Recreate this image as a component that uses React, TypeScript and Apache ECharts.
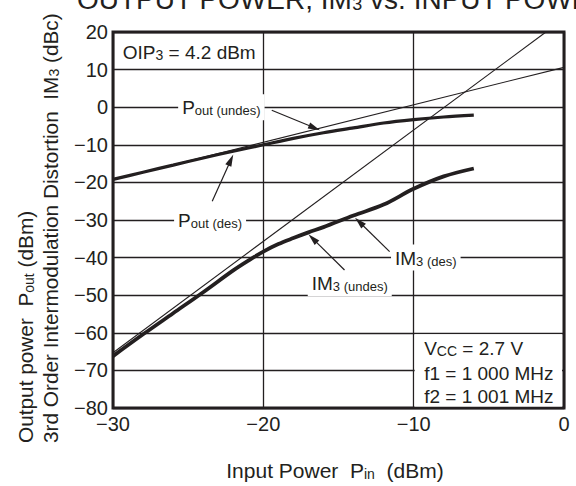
import React, { useEffect, useRef } from 'react';
import * as echarts from 'echarts';

const FONT = "'Liberation Sans', Arial, Helvetica, sans-serif";
const INK = '#231f20';

// Axis ranges / ticks
const X_MIN = -30, X_MAX = 0, X_STEP = 10;
const Y_MIN = -80, Y_MAX = 20, Y_STEP = 10;

// Measured curves (Pin in dBm)
const pinPout = [-30, -28, -26, -24, -22, -20, -18, -16, -14, -12, -10, -8, -6];
const poutDes = [-19.2, -17.3, -15.4, -13.5, -11.7, -10.0, -8.3, -6.8, -5.5, -4.2, -3.3, -2.6, -2.1];
const pinIm3 = [-30, -28, -26, -24, -22, -21, -20, -19, -18, -17, -16, -14, -12, -10, -8, -6];
const im3Des = [-66.2, -60.4, -54.8, -49.2, -43.4, -40.8, -38.4, -36.4, -34.8, -33.3, -31.9, -28.8, -25.9, -21.7, -18.4, -16.3];

// Extrapolated (thin) lines
const poutExtPin = [-30, 0];
const poutExtVal = [-19.3, 10.6];
const im3ExtPin = [-30, -1.2];
const im3ExtVal = [-65.3, 20];

const fmt = (v: number) => (v < 0 ? '\u2212' + Math.abs(v) : String(v));
const zip = (a: number[], b: number[]) => a.map((x, i) => [x, b[i]]);

export default function App() {
  const ref = useRef<HTMLDivElement>(null);
  useEffect(() => {
    if (!ref.current) return;
    const chart = echarts.init(ref.current, null, { renderer: 'svg' });
    const option: any = {
      animation: false,
      backgroundColor: '#ffffff',
      grid: {
        left: 113, top: 32, right: 12, bottom: 78, show: true,
        borderColor: INK, borderWidth: 3, backgroundColor: 'transparent',
      },
      xAxis: {
        type: 'value', min: X_MIN, max: X_MAX, interval: X_STEP,
        axisLine: { show: false }, axisTick: { show: false },
        splitLine: { show: true, lineStyle: { color: INK, width: 1.3 } },
        axisLabel: { fontSize: 20, color: INK, fontFamily: FONT, margin: 6, formatter: fmt },
      },
      yAxis: {
        type: 'value', min: Y_MIN, max: Y_MAX, interval: Y_STEP,
        axisLine: { show: false }, axisTick: { show: false },
        splitLine: { show: true, lineStyle: { color: INK, width: 1.3 } },
        axisLabel: { fontSize: 20, color: INK, fontFamily: FONT, margin: 5, formatter: fmt },
      },
      series: [
        { type: 'line', data: zip(poutExtPin, poutExtVal), symbol: 'none', lineStyle: { color: INK, width: 1.1 }, z: 3 },
        { type: 'line', data: zip(im3ExtPin, im3ExtVal), symbol: 'none', lineStyle: { color: INK, width: 1.1 }, z: 3 },
        { type: 'line', data: zip(pinPout, poutDes), symbol: 'none', smooth: 0.3, lineStyle: { color: INK, width: 3.2 }, z: 4 },
        { type: 'line', data: zip(pinIm3, im3Des), symbol: 'none', smooth: 0.35, lineStyle: { color: INK, width: 3.8 }, z: 4 },
      ],
    };
    chart.setOption(option);

    const px = (p: number[]) => chart.convertToPixel({ gridIndex: 0 }, p) as number[];

    const arrow = (fromD: number[], toD: number[]) => {
      const f = px(fromD), t = px(toD);
      const dx = t[0] - f[0], dy = t[1] - f[1];
      const len = Math.hypot(dx, dy);
      const ux = dx / len, uy = dy / len;
      const L = 12, W = 3.3;
      const bx = t[0] - ux * L, by = t[1] - uy * L;
      return [
        { type: 'line', z: 20, shape: { x1: f[0], y1: f[1], x2: bx + ux * 2, y2: by + uy * 2 }, style: { stroke: INK, lineWidth: 1.2 } },
        { type: 'polygon', z: 20, shape: { points: [[t[0], t[1]], [bx - uy * W, by + ux * W], [bx + uy * W, by - ux * W]] }, style: { fill: INK } },
      ];
    };

    const richMain = (size: number) => ({ fontSize: size, fontFamily: FONT, fill: INK, verticalAlign: 'bottom', lineHeight: size + 1 });
    const richSub = (size: number) => ({ fontSize: size, fontFamily: FONT, fill: INK, verticalAlign: 'bottom', lineHeight: size - 2 });

    const label = (anchorD: number[], text: string, bg: boolean) => {
      const p = px(anchorD);
      return {
        type: 'text', z: 15, x: p[0] - 4, y: p[1],
        style: {
          text, align: 'left', verticalAlign: 'middle',
          backgroundColor: bg ? '#ffffff' : 'transparent', padding: [3, 4, 3, 4],
          rich: { a: richMain(19), s: richSub(13) },
        },
      };
    };

    const boxTL = px([-10, -60]);
    const boxBR = px([0, -80]);
    const boxTextX = px([-9.3, -64])[0];

    const graphic: any[] = [
      // title (cut at top, as in the source)
      {
        type: 'text', z: 15, x: 77, y: -1.3,
        style: {
          text: '{a|OUTPUT POWER, IM}{s|3}{a| vs. INPUT POWER}', align: 'left', verticalAlign: 'middle',
          rich: { a: richMain(28), s: richSub(18) },
        },
      },
      // box lower right
      {
        type: 'rect', z: 10,
        shape: { x: boxTL[0] + 1, y: boxTL[1] + 1.5, width: boxBR[0] - boxTL[0] - 3, height: boxBR[1] - boxTL[1] - 3 },
        style: { fill: '#ffffff' },
      },
      {
        type: 'text', z: 15, x: boxTextX, y: px([-9.3, -64])[1],
        style: { text: '{a|V}{s|CC}{a| = 2.7 V}', align: 'left', verticalAlign: 'middle', rich: { a: richMain(19), s: { fontSize: 14, fontFamily: FONT, fill: INK, verticalAlign: 'bottom', lineHeight: 18 } } },
      },
      {
        type: 'text', z: 15, x: boxTextX, y: px([-9.3, -70.9])[1],
        style: { text: 'f1 = 1 000 MHz', align: 'left', verticalAlign: 'middle', fontSize: 19, fontFamily: FONT, fill: INK },
      },
      {
        type: 'text', z: 15, x: boxTextX, y: px([-9.3, -77.0])[1],
        style: { text: 'f2 = 1 001 MHz', align: 'left', verticalAlign: 'middle', fontSize: 19, fontFamily: FONT, fill: INK },
      },
      // OIP3
      {
        type: 'text', z: 15, x: px([-29.35, 14.7])[0], y: px([-29.35, 14.7])[1],
        style: { text: '{a|OIP}{s|3}{a| = 4.2 dBm}', align: 'left', verticalAlign: 'middle', rich: { a: richMain(19), s: { fontSize: 14, fontFamily: FONT, fill: INK, verticalAlign: 'bottom', lineHeight: 18 } } },
      },
      label([-25.4, 0], '{a|P}{s|out (undes)}', true),
      label([-25.67, -30], '{a|P}{s|out (des)}', true),
      label([-11.24, -40], '{a|IM}{s|3 (des)}', true),
      label([-16.78, -46.8], '{a|IM}{s|3 (undes)}', true),
      ...arrow([-19.44, -0.8], [-16.23, -6.1]),
      ...arrow([-23.4, -25.0], [-22.0, -12.6]),
      ...arrow([-11.6, -38.4], [-13.9, -29.4]),
      ...arrow([-14.6, -43.3], [-17.0, -33.8]),
      // axis titles
      {
        type: 'text', z: 15, x: 335, y: 470,
        style: { text: '{a|Input Power  P}{s|in}{a|  (dBm)}', align: 'center', verticalAlign: 'middle', rich: { a: richMain(21), s: richSub(14) } },
      },
      {
        type: 'text', z: 15, x: 25, y: 443, rotation: Math.PI / 2,
        style: { text: '{a|Output power  P}{s|out}{a| (dBm)}', align: 'left', verticalAlign: 'middle', rich: { a: richMain(20.8), s: richSub(14) } },
      },
      {
        type: 'text', z: 15, x: 50, y: 443, rotation: Math.PI / 2,
        style: { text: '{a|3rd Order Intermodulation Distortion  IM}{s|3}{a| (dBc)}', align: 'left', verticalAlign: 'middle', rich: { a: richMain(20.8), s: richSub(14) } },
      },
    ];
    chart.setOption({ graphic });
    return () => chart.dispose();
  }, []);
  return <div ref={ref} style={{ position: 'fixed', left: 0, top: 0, width: 576, height: 486 }} />;
}
